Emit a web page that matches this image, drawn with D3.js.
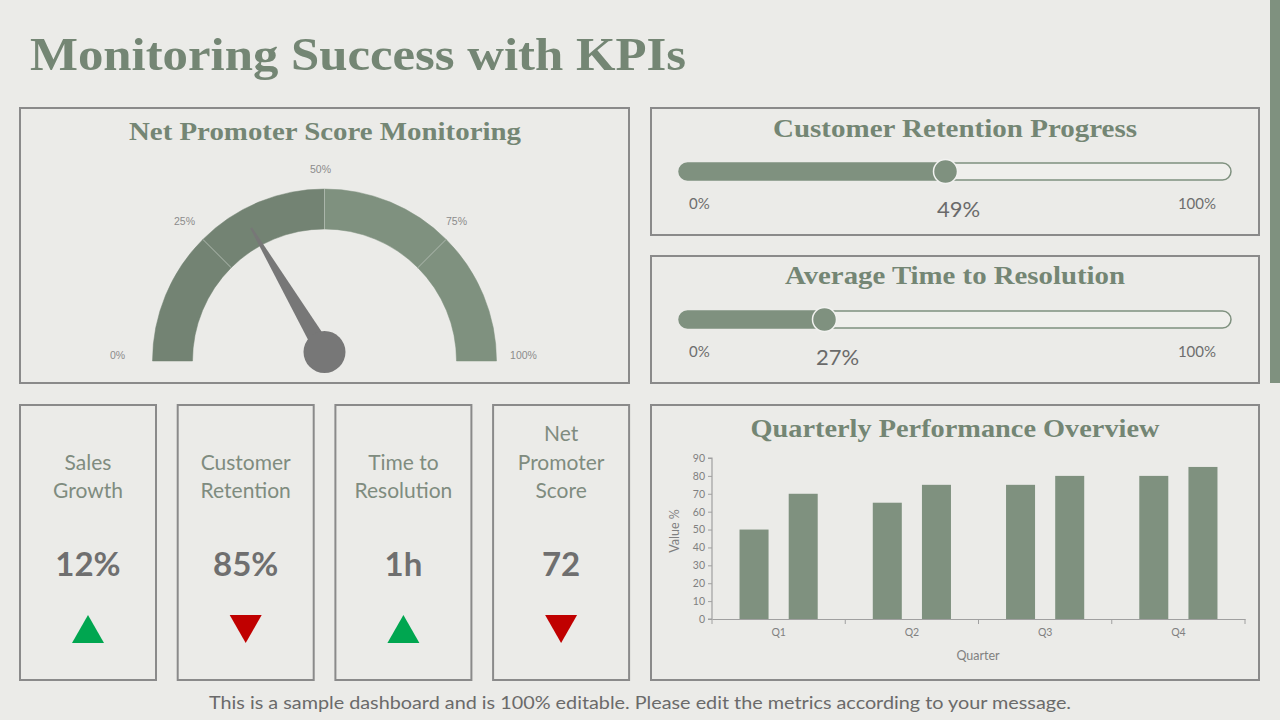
<!DOCTYPE html>
<html>
<head>
<meta charset="utf-8">
<script src="https://cdn.jsdelivr.net/npm/d3@7"></script>
<style>
  html, body { margin: 0; padding: 0; background: #ebebe8; }
  svg { display: block; }
</style>
</head>
<body>
<div class="dash"></div>
<script>
////////////////////////////////// data

var gaugeTicks = [0, 25, 50, 75, 100];
var gaugeSegments = [[0, 25], [25, 50], [50, 75], [75, 100]];
var gaugeValue = 33;

var progressTitles = ["Customer Retention Progress", "Average Time to Resolution"];
var progressValues = [49, 27];

var kpiLabels = [["Sales", "Growth"], ["Customer", "Retention"], ["Time to", "Resolution"], ["Net", "Promoter", "Score"]];
var kpiValues = ["12%", "85%", "1h", "72"];
var kpiTrends = ["up", "down", "up", "down"];

var quarters = ["Q1", "Q2", "Q3", "Q4"];
var seriesNames = ["A", "B"];
var seriesA = [50, 65, 75, 80];
var seriesB = [70, 75, 80, 85];
var yTicks = [0, 10, 20, 30, 40, 50, 60, 70, 80, 90];

////////////////////////////////// styles

var green = "#7f917f", darkGreen = "#738373", titleGreen = "#748674";
var border = "#8a8a8a", bg = "#ebebe8";
var serif = "'Liberation Serif', 'Times New Roman', serif";
var sans = "Lato, 'Open Sans', sans-serif";

var svg = d3.select(".dash").append("svg").attr("width", 1280).attr("height", 720);

svg.append("rect").attr("width", 1280).attr("height", 720).attr("fill", bg);
svg.append("rect").attr("x", 1270).attr("y", 0).attr("width", 10).attr("height", 383).attr("fill", green);

svg.append("text").attr("x", 30).attr("y", 70)
    .attr("font-family", serif).attr("font-weight", "bold").attr("font-size", 46)
    .attr("fill", titleGreen).attr("textLength", 656).attr("lengthAdjust", "spacingAndGlyphs")
    .text("Monitoring Success with KPIs");

//panel frames
function panel(x, y, w, h){
    svg.append("rect").attr("x", x).attr("y", y).attr("width", w).attr("height", h)
        .attr("fill", "none").attr("stroke", border).attr("stroke-width", 2);
}

function panelTitle(text, cx, y, len){
    svg.append("text").attr("x", cx).attr("y", y).attr("text-anchor", "middle")
        .attr("font-family", serif).attr("font-weight", "bold").attr("font-size", 25)
        .attr("fill", titleGreen).attr("textLength", len).attr("lengthAdjust", "spacingAndGlyphs")
        .text(text);
}

////////////////////////////////// gauge

panel(20, 108, 609, 275);
panelTitle("Net Promoter Score Monitoring", 325, 140, 392);

var gcx = 324.5, gcy = 361;
var ang = d3.scaleLinear().domain([0, 100]).range([-Math.PI / 2, Math.PI / 2]);
var arc = d3.arc().innerRadius(132).outerRadius(172);
var gauge = svg.append("g").attr("transform", "translate(" + gcx + "," + gcy + ")");

gauge.selectAll(".seg").data(gaugeSegments).enter().append("path")
    .attr("class", "seg")
    .attr("d", function(d){ return arc({startAngle: ang(d[0]), endAngle: ang(d[1])}); })
    .attr("fill", function(d){ return d[0] < 50 ? darkGreen : green; })
    .attr("stroke", function(d){ return d[0] < 50 ? darkGreen : green; })
    .attr("stroke-width", 0.5);

gauge.selectAll(".sep").data(gaugeTicks.slice(1, 4)).enter().append("line")
    .attr("class", "sep")
    .attr("x1", function(d){ return 132 * Math.sin(ang(d)); })
    .attr("y1", function(d){ return -132 * Math.cos(ang(d)); })
    .attr("x2", function(d){ return 172 * Math.sin(ang(d)); })
    .attr("y2", function(d){ return -172 * Math.cos(ang(d)); })
    .attr("stroke", "#aab5aa").attr("stroke-width", 1);

//labels sit a little wider at the two ends
gauge.selectAll(".glab").data(gaugeTicks).enter().append("text")
    .attr("class", "glab")
    .attr("x", function(d){ var s = Math.sin(ang(d)); return -4 + 190 * s + 13 * Math.sign(s) * Math.pow(Math.abs(s), 6); })
    .attr("y", function(d){ var a = ang(d); return -192 * Math.cos(a) - 6 * Math.abs(Math.sin(a)); })
    .attr("dy", "0.35em").attr("text-anchor", "middle")
    .attr("font-family", "'Liberation Sans', Arial, sans-serif").attr("font-size", 10.5)
    .attr("fill", "#8c8c8c")
    .text(function(d){ return d + "%"; });

//needle
var na = ang(gaugeValue), hubY = -9, nLen = 144;
var tipX = nLen * Math.sin(na), tipY = hubY - nLen * Math.cos(na);
var px = Math.cos(na), py = Math.sin(na);
gauge.append("path")
    .attr("d", "M" + (-9 * px) + "," + (hubY - 9 * py) + "L" + (tipX - 1 * px) + "," + (tipY - 1 * py) +
        "L" + (tipX + 1 * px) + "," + (tipY + 1 * py) + "L" + (9 * px) + "," + (hubY + 9 * py) + "Z")
    .attr("fill", "#777777");
gauge.append("circle").attr("cx", 0).attr("cy", hubY).attr("r", 21).attr("fill", "#777777");

////////////////////////////////// progress bars

var px0 = 679, px1 = 1231;
var xp = d3.scaleLinear().domain([0, 100]).range([676, 1226]);

progressValues.forEach(function(v, i){
    var top = 108 + i * 148;
    panel(651, top, 608, 127);
    panelTitle(progressTitles[i], 955, top + 29 - i * 1, i ? 340 : 364);
    var cy = top + 63.5;
    var g = svg.append("g");
    g.append("rect").attr("x", px0).attr("y", cy - 8.5).attr("width", px1 - px0).attr("height", 17)
        .attr("rx", 8.5).attr("fill", "#efefec").attr("stroke", green).attr("stroke-width", 1.5);
    g.append("rect").attr("x", px0).attr("y", cy - 8.5).attr("width", xp(v) - px0).attr("height", 17)
        .attr("rx", 8.5).attr("fill", green);
    g.append("circle").attr("cx", xp(v)).attr("cy", cy).attr("r", 12)
        .attr("fill", green).attr("stroke", "#f2f2f0").attr("stroke-width", 1.5);
    g.append("text").attr("x", 689).attr("y", cy + 37.5).attr("font-family", sans).attr("font-size", 15)
        .attr("fill", "#6e6e6e").text("0%");
    g.append("text").attr("x", 1216).attr("y", cy + 37.5).attr("text-anchor", "end").attr("font-family", sans)
        .attr("font-size", 15).attr("fill", "#6e6e6e").text("100%");
    g.append("text").attr("x", xp(v) + 13).attr("y", cy + 45).attr("text-anchor", "middle")
        .attr("font-family", sans).attr("font-size", 22).attr("fill", "#6a6a6a").text(v + "%");
});

////////////////////////////////// kpi cards

kpiValues.forEach(function(v, i){
    var x = 20 + i * 157.7, cx = x + 68;
    panel(x, 405, 136, 275);
    var lines = kpiLabels[i];
    var first = 498 - (lines.length - 1) * 28.5;
    svg.append("g").selectAll("text").data(lines).enter().append("text")
        .attr("x", cx).attr("y", function(d, j){ return first + j * 28.5; })
        .attr("text-anchor", "middle").attr("font-family", sans).attr("font-size", 21)
        .attr("fill", "#7f8c7f").text(function(d){ return d; });
    svg.append("text").attr("x", cx).attr("y", 576).attr("text-anchor", "middle")
        .attr("font-family", sans).attr("font-weight", "bold").attr("font-size", 33)
        .attr("fill", "#6f6f6f").text(v);
    var tri = kpiTrends[i] === "up"
        ? [[cx - 16, 643], [cx + 16, 643], [cx, 615]]
        : [[cx - 16, 615], [cx + 16, 615], [cx, 643]];
    svg.append("path").attr("d", d3.line()(tri) + "Z")
        .attr("fill", kpiTrends[i] === "up" ? "#00a650" : "#c00000");
});

////////////////////////////////// quarterly bars

panel(651, 405, 608, 275);
panelTitle("Quarterly Performance Overview", 955, 437, 409);

var x0 = d3.scaleBand().domain(quarters).range([712, 1245]);
var x1 = d3.scaleBand().domain(seriesNames).range([0, x0.bandwidth()]).paddingInner(0.41).paddingOuter(0.56);
var y = d3.scaleLinear().domain([0, 90]).range([619, 458]);

var rows = quarters.map(function(q, i){ return {q: q, vals: [seriesA[i], seriesB[i]]}; });

var chart = svg.append("g");
chart.selectAll(".grp").data(rows).enter().append("g")
    .attr("transform", function(d){ return "translate(" + x0(d.q) + ",0)"; })
    .selectAll("rect").data(function(d){ return d.vals.map(function(v, k){ return {k: seriesNames[k], v: v}; }); })
    .enter().append("rect")
    .attr("x", function(d){ return x1(d.k); })
    .attr("width", x1.bandwidth())
    .attr("y", function(d){ return y(d.v); })
    .attr("height", function(d){ return y(0) - y(d.v); })
    .attr("fill", green);

var yAxis = chart.append("g").attr("transform", "translate(712,0)")
    .call(d3.axisLeft(y).tickValues(yTicks).tickSize(4).tickPadding(3));
var xAxis = chart.append("g").attr("transform", "translate(0,619)")
    .call(d3.axisBottom(x0).tickSize(0).tickPadding(10));
//quarter boundary ticks
xAxis.selectAll(".qb").data(quarters.concat(["end"])).enter().append("line")
    .attr("x1", function(d, i){ return 712 + i * x0.step(); })
    .attr("x2", function(d, i){ return 712 + i * x0.step(); })
    .attr("y1", 0).attr("y2", 5).attr("stroke", "#a0a0a0");

[yAxis, xAxis].forEach(function(a){
    a.selectAll(".domain").attr("stroke", "#a0a0a0").attr("stroke-width", 1.2);
    a.selectAll(".tick line").attr("stroke", "#a0a0a0");
    a.selectAll("text").attr("font-family", sans).attr("font-size", 10.5).attr("fill", "#808080");
});
yAxis.select(".domain").attr("d", "M-4,619H0V458H-4");

chart.append("text").attr("transform", "translate(679,531) rotate(-90)").attr("text-anchor", "middle")
    .attr("font-family", sans).attr("font-size", 12.5).attr("fill", "#808080").text("Value %");
chart.append("text").attr("x", 978).attr("y", 660).attr("text-anchor", "middle")
    .attr("font-family", sans).attr("font-size", 12.5).attr("fill", "#808080").text("Quarter");

////////////////////////////////// footer

svg.append("text").attr("x", 640).attr("y", 709).attr("text-anchor", "middle")
    .attr("font-family", sans).attr("font-size", 18).attr("fill", "#6a6a6a")
    .attr("textLength", 862).attr("lengthAdjust", "spacingAndGlyphs")
    .text("This is a sample dashboard and is 100% editable. Please edit the metrics according to your message.");
</script>
</body>
</html>
